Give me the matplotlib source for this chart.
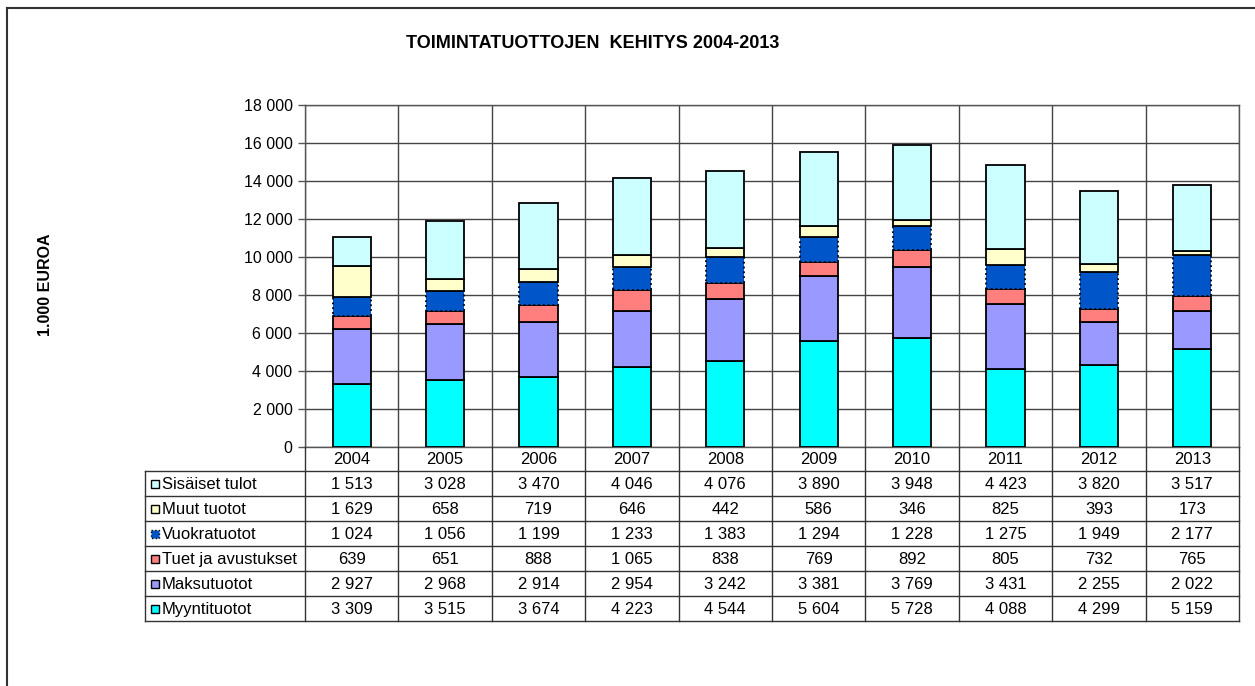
import numpy as np
import matplotlib.pyplot as plt
from matplotlib.patches import Rectangle
from matplotlib.lines import Line2D

plt.rcParams['font.family'] = ['Liberation Sans', 'DejaVu Sans']

years = ['2004', '2005', '2006', '2007', '2008', '2009', '2010', '2011', '2012', '2013']

# series, bottom to top of the stack
myyntituotot = [3309, 3515, 3674, 4223, 4544, 5604, 5728, 4088, 4299, 5159]
maksutuotot = [2927, 2968, 2914, 2954, 3242, 3381, 3769, 3431, 2255, 2022]
tuet = [639, 651, 888, 1065, 838, 769, 892, 805, 732, 765]
vuokratuotot = [1024, 1056, 1199, 1233, 1383, 1294, 1228, 1275, 1949, 2177]
muut = [1629, 658, 719, 646, 442, 586, 346, 825, 393, 173]
sisaiset = [1513, 3028, 3470, 4046, 4076, 3890, 3948, 4423, 3820, 3517]

names = ['Myyntituotot', 'Maksutuotot', 'Tuet ja avustukset', 'Vuokratuotot',
         'Muut tuotot', 'Sisäiset tulot']
series = [myyntituotot, maksutuotot, tuet, vuokratuotot, muut, sisaiset]
colors = ['#00FFFF', '#9999FF', '#FF7F7F', '#0055C8', '#FFFFCC', '#CCFFFF']
styles = ['-', '-', '-', ':', '-', '-']

W, H = 1255, 686
fig = plt.figure(figsize=(W / 100, H / 100), dpi=100)

# outer frame
fig.add_artist(Line2D([7 / W, 1], [1 - 8 / H, 1 - 8 / H], color='#333333', lw=1.5))
fig.add_artist(Line2D([7 / W, 7 / W], [0, 1 - 8 / H], color='#333333', lw=1.5))

pl, pr, pt, pb = 305, 1239, 105, 447
ax = fig.add_axes([pl / W, 1 - pb / H, (pr - pl) / W, (pb - pt) / H])

x = np.arange(len(years))
bottom = np.zeros(len(years))
for vals, c, ls in zip(series, colors, styles):
    ax.bar(x, vals, width=0.41, bottom=bottom, color=c, edgecolor='black',
           linewidth=1.3, linestyle=ls, zorder=3)
    bottom += np.array(vals)

ax.set_xlim(-0.5, len(years) - 0.5)
ax.set_ylim(0, 18000)
ax.set_yticks(np.arange(0, 18001, 2000))
ax.set_yticklabels([f"{v:,}".replace(',', ' ') for v in range(0, 18001, 2000)], fontsize=11.5)
ax.set_xticks(np.arange(-0.5, len(years), 1.0))
ax.set_xticklabels([])
ax.tick_params(axis='x', length=0)
ax.tick_params(axis='y', length=5, width=1, color='#555555', pad=4)
ax.grid(True, color='#444444', linewidth=1, zorder=0)
for s in ax.spines.values():
    s.set_color('#555555')
    s.set_linewidth(1)

fig.text(593 / W, 1 - 43 / H, 'TOIMINTATUOTTOJEN  KEHITYS 2004-2013', ha='center', va='center',
         fontsize=13, fontweight='bold')
fig.text(45 / W, 1 - 285 / H, '1.000 EUROA', ha='center', va='center', rotation=90,
         fontsize=11.5, fontweight='bold')

# data table below the chart
tl, tt, tb = 145, 447, 621
colw = (pr - pl) / len(years)
tax = fig.add_axes([tl / W, 1 - tb / H, (pr - tl) / W, (tb - tt) / H])
tax.set_xlim(-(pl - tl) / colw - 0.5, len(years) - 0.5)
tax.set_ylim(tb - tt, 0)
tax.axis('off')

hdr = 24
rowh = 25
lc = '#333333'
fs = 12
# header row
for i, yr in enumerate(years):
    tax.text(i, hdr / 2 + 1, yr, ha='center', va='center', fontsize=fs)
# horizontal lines
xl = -(pl - tl) / colw - 0.5
for r in range(7):
    yy = hdr + r * rowh
    tax.plot([xl, len(years) - 0.5], [yy, yy], color=lc, lw=1, clip_on=False)
# vertical lines
for k in range(len(years) + 1):
    tax.plot([k - 0.5, k - 0.5], [0, tb - tt], color=lc, lw=1, clip_on=False)
tax.plot([xl, xl], [hdr, tb - tt], color=lc, lw=1, clip_on=False)

mw = 8 / colw
for r, idx in enumerate(range(len(series) - 1, -1, -1)):
    yc = hdr + r * rowh + rowh / 2
    tax.add_patch(Rectangle((xl + 6 / colw, yc - 4), mw, 8, facecolor=colors[idx],
                            edgecolor='black', lw=1, linestyle=styles[idx], clip_on=False))
    tax.text(xl + 17 / colw, yc + 1, names[idx], ha='left', va='center', fontsize=fs)
    for i, v in enumerate(series[idx]):
        tax.text(i, yc + 1, f"{v:,}".replace(',', ' '), ha='center', va='center', fontsize=fs)

fig.savefig('out.png', dpi=100)
